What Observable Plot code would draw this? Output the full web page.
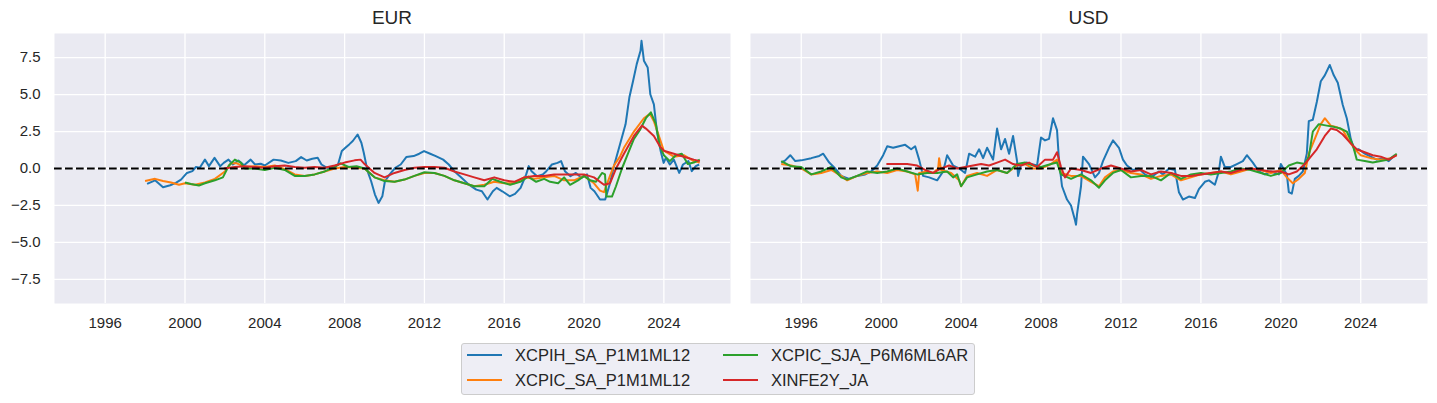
<!DOCTYPE html>
<html>
<head>
<meta charset="utf-8">
<script src="https://cdn.jsdelivr.net/npm/d3@7"></script>
<script src="https://cdn.jsdelivr.net/npm/@observablehq/plot@0.6"></script>
<style>
  html, body { margin: 0; padding: 0; background: #ffffff; }
  #root { position: relative; width: 1437px; height: 403px; font-family: "Liberation Sans", Arial, sans-serif; color: #262626; overflow: hidden; }
  .panel { position: absolute; top: 0; }
  .title { position: absolute; top: 6px; font-size: 19px; line-height: 24px; text-align: center; color: #262626; }
  .legend { position: absolute; left: 461px; top: 343px; width: 512px; height: 50px; background: rgba(234,234,242,0.8); border: 1px solid #cccccc; border-radius: 3px; }
  .item { position: absolute; font-size: 16.5px; line-height: 25px; white-space: nowrap; color: #262626; }
  .sw { position: absolute; height: 2px; width: 35px; }
</style>
</head>
<body>
<div id="root"></div>
<script>
// ---------------- data (decimal year, value) ----------------
const seriesNames = ["XCPIH_SA_P1M1ML12", "XCPIC_SA_P1M1ML12", "XCPIC_SJA_P6M6ML6AR", "XINFE2Y_JA"];
const seriesColors = ["#1f77b4", "#ff7f0e", "#2ca02c", "#d62728"];
const panels = ["EUR", "USD"];
const yTicks = [-7.5, -5.0, -2.5, 0.0, 2.5, 5.0, 7.5];
const xTicks = [1996, 2000, 2004, 2008, 2012, 2016, 2020, 2024];

const eurXcpih = [[1998.1,-1.04],[1998.5,-0.8],[1998.9,-1.27],[1999.26,-1.13],[1999.54,-0.97],[1999.8,-0.75],[2000.1,-0.3],[2000.37,-0.18],[2000.55,0.1],[2000.74,0.05],[2001.0,0.6],[2001.2,0.16],[2001.48,0.72],[2001.76,0.16],[2001.94,0.38],[2002.18,0.6],[2002.4,0.27],[2002.68,0.54],[2002.96,0.22],[2003.29,0.6],[2003.51,0.27],[2003.79,0.32],[2004.0,0.2],[2004.44,0.6],[2004.8,0.54],[2005.18,0.38],[2005.55,0.5],[2005.82,0.77],[2006.1,0.54],[2006.38,0.66],[2006.65,0.72],[2006.84,0.27],[2007.12,0.05],[2007.39,0.0],[2007.67,0.27],[2007.86,1.18],[2008.04,1.4],[2008.23,1.63],[2008.41,1.86],[2008.65,2.3],[2008.84,1.74],[2008.96,1.06],[2009.15,-0.18],[2009.33,-0.86],[2009.52,-1.76],[2009.7,-2.33],[2009.89,-1.88],[2010.02,-0.86],[2010.26,-0.4],[2010.54,0.05],[2010.81,0.27],[2011.09,0.77],[2011.46,0.84],[2011.74,1.0],[2011.98,1.18],[2012.29,1.0],[2012.57,0.84],[2012.94,0.6],[2013.22,0.27],[2013.5,-0.18],[2013.86,-0.63],[2014.23,-1.09],[2014.6,-1.43],[2014.88,-1.54],[2015.16,-2.1],[2015.43,-1.54],[2015.62,-1.31],[2015.9,-1.54],[2016.27,-1.88],[2016.54,-1.72],[2016.82,-1.31],[2017.1,-0.4],[2017.23,0.16],[2017.37,-0.18],[2017.65,-0.52],[2017.93,-0.4],[2018.11,-0.18],[2018.39,0.27],[2018.67,0.38],[2018.85,0.5],[2019.04,-0.18],[2019.32,-0.52],[2019.59,-0.3],[2019.87,-0.63],[2020.15,-0.4],[2020.33,-1.31],[2020.52,-1.54],[2020.8,-2.1],[2021.06,-2.1],[2021.28,-1.09],[2021.52,0.27],[2021.8,1.63],[2022.08,2.99],[2022.27,4.8],[2022.46,5.93],[2022.64,7.06],[2022.83,7.96],[2022.88,8.64],[2023.0,7.29],[2023.19,6.83],[2023.32,5.02],[2023.5,4.34],[2023.65,2.53],[2023.84,1.18],[2023.99,0.38],[2024.1,0.72],[2024.3,0.27],[2024.5,0.6],[2024.77,-0.3],[2024.96,0.27],[2025.23,0.5],[2025.4,-0.18],[2025.6,0.16],[2025.77,0.27]];
const eurXcpic = [[1998.0,-0.85],[1998.5,-0.7],[1998.9,-0.85],[1999.3,-0.95],[1999.7,-1.1],[2000.0,-1.0],[2000.5,-1.1],[2001.0,-0.95],[2001.5,-0.7],[2002.0,-0.2],[2002.3,0.35],[2002.6,0.35],[2003.0,0.1],[2003.5,0.15],[2004.0,0.1],[2004.5,0.2],[2005.0,-0.05],[2005.5,-0.4],[2006.0,-0.5],[2006.5,-0.4],[2007.0,-0.2],[2007.5,0.0],[2008.0,0.1],[2008.5,0.05],[2009.0,0.0],[2009.5,-0.6],[2010.0,-0.8],[2010.5,-0.9],[2011.0,-0.75],[2011.5,-0.5],[2012.0,-0.3],[2012.5,-0.3],[2013.0,-0.5],[2013.5,-0.8],[2014.0,-1.0],[2014.5,-1.2],[2015.0,-1.1],[2015.5,-0.9],[2016.0,-1.0],[2016.5,-1.0],[2017.0,-0.6],[2017.5,-0.7],[2018.0,-0.6],[2018.5,-0.5],[2019.0,-0.8],[2019.5,-0.8],[2020.0,-0.5],[2020.5,-1.0],[2020.8,-1.5],[2021.0,-1.6],[2021.3,-0.5],[2021.5,0.2],[2021.8,0.8],[2022.0,1.4],[2022.5,2.5],[2023.0,3.4],[2023.3,3.7],[2023.5,3.2],[2023.8,2.0],[2024.0,1.2],[2024.5,0.8],[2025.0,0.9],[2025.5,0.5],[2025.8,0.4]];
const eurXcpicSja = [[2000.0,-0.95],[2000.3,-1.05],[2000.7,-1.15],[2001.0,-1.0],[2001.5,-0.8],[2001.9,-0.6],[2002.2,0.2],[2002.5,0.6],[2002.8,0.4],[2003.0,0.0],[2003.5,0.0],[2004.0,-0.1],[2004.5,0.05],[2005.0,-0.1],[2005.5,-0.5],[2006.0,-0.5],[2006.5,-0.4],[2007.0,-0.2],[2007.5,0.1],[2007.8,0.35],[2008.2,0.1],[2008.6,0.15],[2009.0,0.0],[2009.5,-0.6],[2010.0,-0.85],[2010.5,-0.9],[2011.0,-0.75],[2011.5,-0.5],[2012.0,-0.25],[2012.5,-0.3],[2013.0,-0.5],[2013.5,-0.8],[2014.0,-1.0],[2014.5,-1.2],[2015.0,-1.2],[2015.4,-0.7],[2015.8,-0.9],[2016.3,-1.1],[2016.8,-0.9],[2017.2,-0.55],[2017.6,-0.9],[2018.0,-0.7],[2018.3,-0.9],[2018.7,-1.0],[2019.0,-0.6],[2019.3,-1.1],[2019.7,-0.8],[2020.0,-0.5],[2020.3,-0.8],[2020.6,-0.9],[2020.9,-0.3],[2021.05,-0.4],[2021.12,-1.9],[2021.4,-1.9],[2021.6,-1.2],[2021.9,0.0],[2022.2,1.0],[2022.5,2.0],[2022.8,2.6],[2023.1,3.4],[2023.35,3.8],[2023.6,3.0],[2023.8,1.5],[2024.0,0.9],[2024.3,0.5],[2024.6,0.9],[2024.9,1.0],[2025.2,0.3],[2025.5,0.4],[2025.8,0.6]];
const eurXinfe = [[2001.95,0.0],[2002.5,0.1],[2003.0,0.15],[2003.5,0.1],[2004.0,0.05],[2004.5,0.15],[2005.0,0.2],[2005.5,0.1],[2006.0,0.05],[2006.5,0.1],[2007.0,0.05],[2007.5,0.2],[2008.0,0.4],[2008.5,0.55],[2008.8,0.6],[2009.0,0.3],[2009.5,-0.3],[2010.0,-0.6],[2010.5,-0.3],[2011.0,-0.1],[2011.5,0.05],[2012.0,0.1],[2012.5,0.1],[2013.0,0.05],[2013.5,-0.2],[2014.0,-0.4],[2014.5,-0.6],[2015.0,-0.8],[2015.5,-0.6],[2016.0,-0.8],[2016.5,-0.9],[2017.0,-0.6],[2017.5,-0.5],[2018.0,-0.5],[2018.5,-0.4],[2019.0,-0.4],[2019.5,-0.4],[2020.0,-0.4],[2020.5,-0.6],[2021.0,-1.1],[2021.3,-1.0],[2021.6,0.0],[2022.0,1.0],[2022.5,2.2],[2022.9,2.9],[2023.1,2.7],[2023.5,2.2],[2023.8,1.5],[2024.0,1.2],[2024.5,1.0],[2025.0,0.8],[2025.5,0.6],[2025.8,0.5]];

const usdXcpih = [[1995.0,0.4],[1995.2,0.55],[1995.45,0.9],[1995.7,0.5],[1996.0,0.55],[1996.5,0.7],[1996.9,0.85],[1997.1,1.0],[1997.4,0.4],[1997.7,0.0],[1998.0,-0.5],[1998.4,-0.7],[1998.8,-0.5],[1999.2,-0.4],[1999.5,-0.2],[1999.8,0.2],[2000.1,0.9],[2000.3,1.5],[2000.6,1.4],[2000.9,1.5],[2001.2,1.6],[2001.5,1.3],[2001.7,1.5],[2001.9,0.6],[2002.1,-0.5],[2002.4,-0.6],[2002.8,-0.8],[2003.1,-0.2],[2003.3,0.9],[2003.6,0.2],[2003.9,0.0],[2004.2,-0.3],[2004.4,1.0],[2004.7,0.8],[2004.9,1.3],[2005.1,0.7],[2005.3,1.4],[2005.6,0.6],[2005.8,2.7],[2006.0,1.3],[2006.2,2.0],[2006.4,1.0],[2006.6,2.2],[2006.8,0.5],[2006.85,-0.5],[2007.0,0.3],[2007.3,0.4],[2007.5,0.3],[2007.8,0.2],[2008.0,2.1],[2008.2,1.9],[2008.4,2.0],[2008.6,3.4],[2008.8,2.6],[2008.9,0.5],[2009.05,-1.2],[2009.3,-2.1],[2009.5,-2.5],[2009.7,-3.5],[2009.75,-3.8],[2009.8,-3.1],[2010.0,-1.2],[2010.1,0.8],[2010.4,0.3],[2010.7,-0.6],[2010.9,-0.3],[2011.1,0.5],[2011.4,1.4],[2011.6,1.9],[2011.9,1.4],[2012.1,0.6],[2012.3,0.2],[2012.6,-0.1],[2012.9,0.0],[2013.2,-0.4],[2013.5,-0.6],[2013.9,-0.2],[2014.1,-0.4],[2014.4,0.0],[2014.7,-0.1],[2014.9,-1.6],[2015.1,-2.1],[2015.4,-1.9],[2015.7,-2.0],[2015.9,-1.4],[2016.2,-0.9],[2016.4,-0.8],[2016.7,-1.1],[2016.9,-0.2],[2017.0,0.8],[2017.2,0.1],[2017.5,0.1],[2017.8,0.3],[2018.1,0.5],[2018.3,0.9],[2018.6,0.4],[2018.9,-0.2],[2019.2,-0.4],[2019.5,-0.2],[2019.9,-0.4],[2020.0,0.3],[2020.3,-0.4],[2020.4,-1.6],[2020.55,-1.7],[2020.7,-0.7],[2020.9,-0.5],[2021.1,-0.2],[2021.3,1.0],[2021.4,3.2],[2021.6,3.3],[2021.8,4.5],[2022.0,5.9],[2022.2,6.3],[2022.45,7.0],[2022.65,6.3],[2022.85,5.8],[2023.1,4.3],[2023.3,3.4],[2023.5,2.0],[2023.7,1.2],[2023.9,1.3],[2024.2,1.0],[2024.5,0.8],[2024.8,0.6],[2025.1,0.7],[2025.4,0.5],[2025.7,0.9]];
const usdXcpic = [[1995.0,0.3],[1995.5,0.2],[1996.0,0.0],[1996.5,-0.4],[1997.0,-0.3],[1997.5,-0.1],[1998.0,-0.5],[1998.3,-0.8],[1998.8,-0.5],[1999.3,-0.3],[1999.8,-0.2],[2000.3,-0.3],[2000.8,-0.1],[2001.3,-0.2],[2001.7,-0.4],[2001.83,-1.5],[2001.9,-0.3],[2002.3,-0.2],[2002.6,-0.3],[2002.85,0.0],[2002.9,0.7],[2003.0,-0.1],[2003.5,-0.3],[2003.9,-0.8],[2004.0,-1.2],[2004.3,-0.5],[2004.8,-0.3],[2005.3,-0.5],[2005.8,-0.1],[2006.3,-0.3],[2006.8,0.2],[2007.2,0.3],[2007.6,0.0],[2008.0,0.0],[2008.5,0.3],[2008.8,0.6],[2009.0,-0.3],[2009.5,-0.5],[2010.0,-0.5],[2010.5,-0.9],[2010.9,-1.2],[2011.2,-0.6],[2011.6,-0.2],[2012.0,-0.1],[2012.5,-0.3],[2013.0,-0.4],[2013.5,-0.7],[2014.0,-0.5],[2014.5,-0.4],[2015.0,-0.8],[2015.5,-0.6],[2016.0,-0.4],[2016.5,-0.3],[2017.0,-0.2],[2017.5,-0.4],[2018.0,-0.2],[2018.5,0.0],[2019.0,-0.1],[2019.5,-0.3],[2020.0,-0.1],[2020.3,-0.6],[2020.6,-1.0],[2020.9,-0.7],[2021.2,-0.3],[2021.4,1.0],[2021.7,2.0],[2022.0,3.0],[2022.2,3.4],[2022.5,2.9],[2022.8,2.8],[2023.1,2.6],[2023.4,1.9],[2023.7,1.3],[2024.0,0.9],[2024.5,0.7],[2025.0,0.6],[2025.5,0.7],[2025.8,0.9]];
const usdXcpicSja = [[1995.0,0.5],[1995.5,0.15],[1996.0,0.1],[1996.5,-0.4],[1997.0,-0.2],[1997.5,0.1],[1998.0,-0.6],[1998.3,-0.75],[1998.8,-0.5],[1999.3,-0.2],[1999.8,-0.3],[2000.3,-0.2],[2000.8,0.0],[2001.3,-0.2],[2001.8,-0.4],[2002.3,-0.3],[2002.8,-0.3],[2003.3,-0.2],[2003.6,-0.6],[2003.8,-0.4],[2004.0,-1.2],[2004.3,-0.6],[2004.8,-0.4],[2005.3,-0.2],[2005.8,-0.1],[2006.3,-0.3],[2006.8,0.3],[2007.2,0.4],[2007.6,0.2],[2008.0,0.1],[2008.5,0.3],[2008.8,0.4],[2009.0,-0.4],[2009.5,-0.7],[2010.0,-0.4],[2010.5,-0.8],[2010.9,-1.3],[2011.2,-0.8],[2011.6,-0.3],[2012.0,-0.1],[2012.5,-0.6],[2013.0,-0.5],[2013.5,-0.5],[2014.0,-0.8],[2014.5,-0.3],[2015.0,-0.7],[2015.5,-0.4],[2016.0,-0.3],[2016.5,-0.4],[2017.0,-0.3],[2017.5,-0.2],[2018.0,0.0],[2018.5,-0.1],[2019.0,-0.3],[2019.5,-0.5],[2020.0,-0.3],[2020.4,0.2],[2020.8,0.4],[2021.2,0.3],[2021.4,0.8],[2021.6,2.5],[2021.9,3.0],[2022.3,2.9],[2022.7,2.8],[2023.0,2.7],[2023.3,2.5],[2023.6,1.6],[2023.8,0.6],[2024.2,0.5],[2024.6,0.4],[2025.0,0.5],[2025.4,0.6],[2025.8,1.0]];
const usdXinfe = [[2000.26,0.3],[2000.8,0.3],[2001.3,0.3],[2001.8,0.2],[2002.2,-0.1],[2002.6,-0.3],[2003.0,0.0],[2003.4,0.2],[2003.8,0.0],[2004.2,0.1],[2004.6,0.2],[2005.0,0.3],[2005.4,0.2],[2005.8,0.4],[2006.2,0.6],[2006.6,0.3],[2007.0,0.2],[2007.4,0.4],[2007.8,0.1],[2008.2,0.6],[2008.6,0.6],[2008.8,1.1],[2009.0,0.1],[2009.2,-0.6],[2009.5,0.0],[2010.0,-0.1],[2010.5,-0.3],[2011.0,0.0],[2011.5,0.2],[2012.0,0.0],[2012.5,-0.2],[2013.0,-0.1],[2013.5,-0.4],[2014.0,-0.2],[2014.5,-0.3],[2015.0,-0.5],[2015.5,-0.5],[2016.0,-0.4],[2016.5,-0.3],[2017.0,-0.2],[2017.5,-0.3],[2018.0,-0.1],[2018.5,0.0],[2019.0,-0.1],[2019.5,-0.2],[2020.0,-0.2],[2020.4,-0.4],[2020.8,-0.2],[2021.2,0.3],[2021.5,0.8],[2021.8,1.3],[2022.2,2.2],[2022.5,2.7],[2022.8,2.6],[2023.1,2.3],[2023.5,1.7],[2023.8,1.3],[2024.2,1.1],[2024.6,0.9],[2025.0,0.8],[2025.4,0.6],[2025.8,0.9]];

const panelSeries = {
  EUR: [eurXcpih, eurXcpic, eurXcpicSja, eurXinfe],
  USD: [usdXcpih, usdXcpic, usdXcpicSja, usdXinfe]
};

// ---------------- layout ----------------
const root = document.getElementById("root");
const xDomain = [1993.46, 2027.34];
const yDomain = [-9.13, 9.13];
const panelBoxes = {
  EUR: {left: 0, width: 735, marginLeft: 54, marginRight: 5, showY: true},
  USD: {left: 740, width: 697, marginLeft: 10, marginRight: 10, showY: false}
};

for (const p of panels) {
  const box = panelBoxes[p];
  const rows = [];
  panelSeries[p].forEach((arr, i) => {
    for (const [t, v] of arr) rows.push({t, v, s: seriesNames[i]});
  });
  const marks = [
    Plot.frame({fill: "#eaeaf2", stroke: null}),
    Plot.gridX(xTicks, {stroke: "#ffffff", strokeOpacity: 1, strokeWidth: 1.3}),
    Plot.gridY(yTicks, {stroke: "#ffffff", strokeOpacity: 1, strokeWidth: 1.3}),
    Plot.axisX(xTicks, {tickSize: 0, tickPadding: 14, tickFormat: d => String(d), fontSize: 15, fill: "#262626", label: null}),
  ];
  if (box.showY) {
    marks.push(Plot.axisY(yTicks, {tickSize: 0, tickPadding: 14, tickFormat: d => d3.format(".1f")(d).replace("-", "\u2212"), fontSize: 15, fill: "#262626", label: null}));
  }
  marks.push(
    Plot.line(rows, {x: "t", y: "v", z: "s", stroke: "s", strokeWidth: 2, strokeLinejoin: "round", strokeLinecap: "butt"}),
    Plot.ruleY([0], {stroke: "#000000", strokeWidth: 2, strokeDasharray: "7.7,3.3"})
  );
  const chart = Plot.plot({
    width: box.width,
    height: 330,
    marginLeft: box.marginLeft,
    marginRight: box.marginRight,
    marginTop: 33,
    marginBottom: 27,
    style: {fontFamily: "'Liberation Sans', Arial, sans-serif", fontSize: "15px", color: "#262626", background: "transparent", overflow: "visible"},
    x: {domain: xDomain, axis: null},
    y: {domain: yDomain, axis: null},
    color: {domain: seriesNames, range: seriesColors},
    marks
  });
  const wrap = document.createElement("div");
  wrap.className = "panel";
  wrap.style.left = box.left + "px";
  wrap.appendChild(chart);
  root.appendChild(wrap);

  const title = document.createElement("div");
  title.className = "title";
  title.textContent = p;
  const x0 = box.left + box.marginLeft, x1 = box.left + box.width - box.marginRight;
  title.style.left = x0 + "px";
  title.style.width = (x1 - x0) + "px";
  root.appendChild(title);
}

// ---------------- legend ----------------
const legend = document.createElement("div");
legend.className = "legend";
root.appendChild(legend);
const legendPos = [
  {sx: 467, tx: 515, cy: 355},
  {sx: 467, tx: 515, cy: 380},
  {sx: 723, tx: 771, cy: 355},
  {sx: 723, tx: 771, cy: 380}
];
seriesNames.forEach((name, i) => {
  const pos = legendPos[i];
  const sw = document.createElement("div");
  sw.className = "sw";
  sw.style.left = pos.sx + "px";
  sw.style.top = (pos.cy - 1) + "px";
  sw.style.background = seriesColors[i];
  root.appendChild(sw);
  const it = document.createElement("div");
  it.className = "item";
  it.style.left = pos.tx + "px";
  it.style.top = (pos.cy - 12.5) + "px";
  it.textContent = name;
  root.appendChild(it);
});
</script>
</body>
</html>
